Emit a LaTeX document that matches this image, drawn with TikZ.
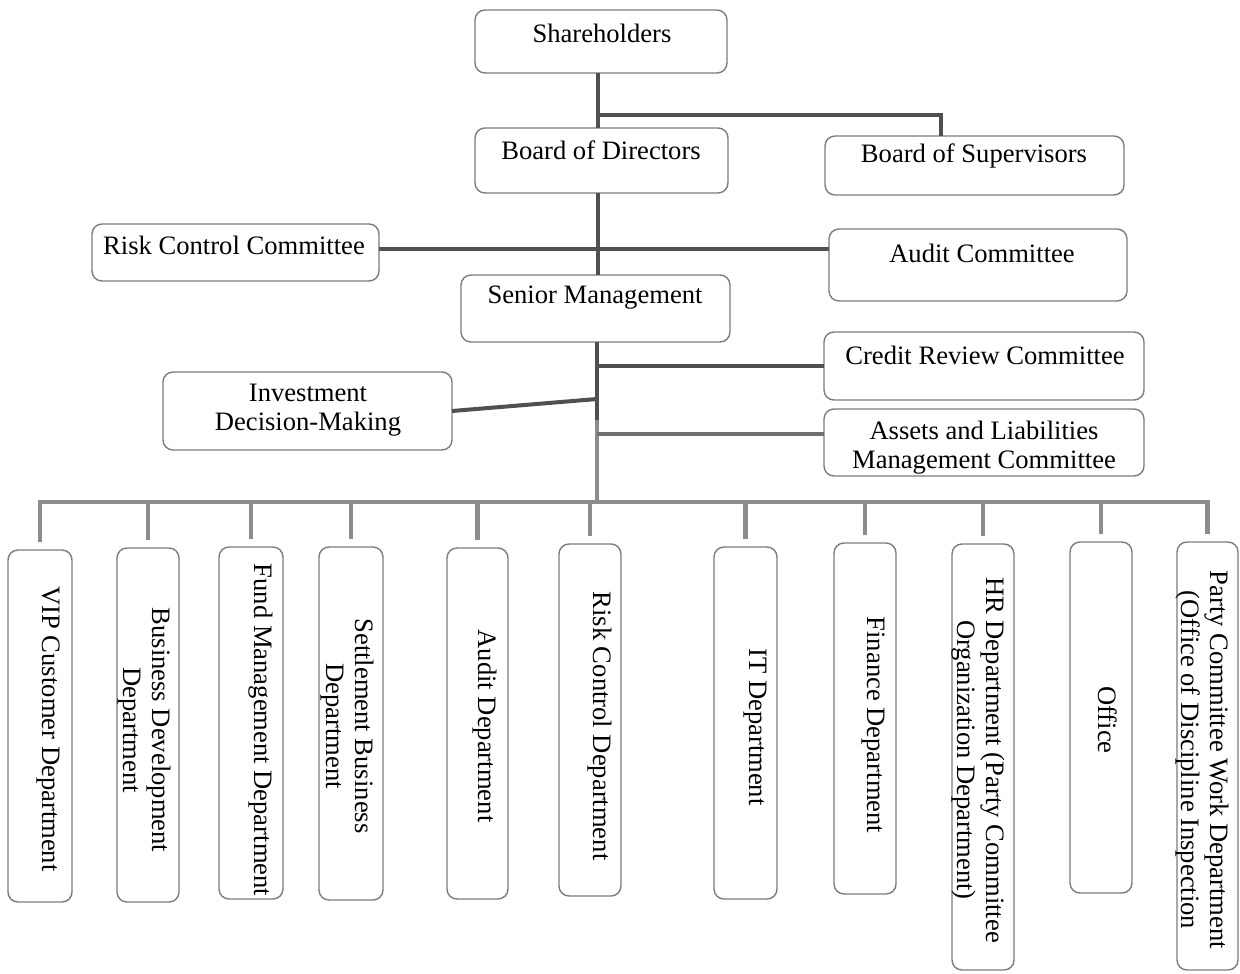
\documentclass[tikz,border=0pt]{standalone}
\usepackage{fontspec}
\setmainfont{Liberation Serif}
\definecolor{boxgray}{HTML}{7C7C7C}
\definecolor{linedark}{HTML}{505050}
\definecolor{linemid}{HTML}{707070}
\definecolor{linegray}{HTML}{8C8C8C}
\newcommand{\bx}[5]{\node[box, minimum width={(#4-#2)*0.5pt}, minimum height={(#5-#3)*0.5pt}] (#1) at ({(#2+#4)/2},{(#3+#5)/2}) {};}
\begin{document}
\begin{tikzpicture}[x=0.5pt,y=-0.5pt,
  box/.style={draw=boxgray, line width=0.7pt, rounded corners=5pt, inner sep=0pt, outer sep=0pt},
  lbl/.style={font=\fontsize{13.3}{14.5}\selectfont, inner sep=0pt, align=center},
  vlbl/.style={lbl, rotate=-90},
  darkline/.style={draw=linedark, line width=2pt},
  midline/.style={draw=linemid, line width=2pt},
  busline/.style={draw=linegray, line width=2.4pt}
]
\useasboundingbox[fill=white] (0,0) rectangle (1240,973);

% upper boxes
\bx{sh}{475}{10}{727}{73}
\bx{bod}{475}{128}{728}{193}
\bx{bos}{825}{136}{1124}{195}
\bx{rcc}{92}{224}{379}{281}
\bx{ac}{829}{229}{1127}{301}
\bx{sm}{461}{275}{730}{342}
\bx{cr}{824}{332}{1144}{400}
\bx{inv}{163}{372}{452}{450}
\bx{al}{824}{409}{1144}{476}

\node[lbl] (sh-t) at (602,33) {Shareholders};
\node[lbl] (bod-t) at (601,150) {Board of Directors};
\node[lbl] (bos-t) at (974,156) {Board of Supervisors};
\node[lbl] (rcc-t) at (234,245) {Risk Control Committee};
\node[lbl] (ac-t) at (982,253) {Audit Committee};
\node[lbl] (sm-t) at (595,298) {Senior Management};
\node[lbl] (cr-t) at (985,355) {Credit Review Committee};
\node[lbl] (inv-t) at (308,410) {Investment\\Decision-Making};
\node[lbl] (al-t) at (984,448) {Assets and Liabilities\\Management Committee};

% department boxes
\bx{d1}{8}{550}{72}{902}
\bx{d2}{117}{548}{179}{902}
\bx{d3}{219}{547}{283}{899}
\bx{d4}{319}{547}{383}{900}
\bx{d5}{447}{548}{508}{899}
\bx{d6}{559}{544}{621}{896}
\bx{d7}{714}{547}{777}{899}
\bx{d8}{834}{543}{896}{894}
\bx{d9}{952}{544}{1014}{970}
\bx{d10}{1070}{542}{1132}{893}
\bx{d11}{1177}{542}{1238}{970}

\node[vlbl] (d1-t) at (48,729) {VIP Customer Department};
\node[vlbl] (d2-t) at (144,730) {Business Development\\Department};
\node[vlbl] (d3-t) at (261,730) {Fund Management Department};
\node[vlbl] (d4-t) at (347,726) {Settlement Business\\Department};
\node[vlbl] (d5-t) at (485,726) {Audit Department};
\node[vlbl] (d6-t) at (600,726) {Risk Control Department};
\node[vlbl] (d7-t) at (755,727) {IT Department};
\node[vlbl] (d8-t) at (873,725) {Finance Department};
\node[vlbl] (d9-t) at (978,760) {HR Department (Party Committee\\Organization Department)};
\node[vlbl] (d10-t) at (1108,720) {Office};
\node[vlbl] (d11-t) at (1202,760) {Party Committee Work Department\\(Office of Discipline Inspection};

% connectors
\coordinate (jsup) at (598,115);
\coordinate (spine) at (597,502);
\coordinate (spmid) at (597,420);
\coordinate (invj) at (597,399);

\draw[darkline] (sh.south -| jsup) -- (bod.north -| jsup);
\draw[darkline] (jsup) -| ([xshift=-17pt]bos.north);
\draw[darkline] (bod.south -| jsup) -- (sm.north -| jsup);
\draw[darkline] ([yshift=1.75pt]rcc.east) -- ([yshift=1.75pt]rcc.east -| ac.west);
\draw[darkline] (sm.south -| spine) -- (spmid);
\draw[busline] (spmid) -- (spine);
\draw[darkline] (cr.west -| spine) -- (cr.west);
\draw[midline] ([yshift=4.5pt]al.west -| spine) -- ([yshift=4.5pt]al.west);
\draw[darkline] (inv.east) -- (invj);

\draw[busline, line join=miter] ([yshift=4pt]d1.north) -- (d1.north |- spine) -- (d11.north |- spine) -- ([yshift=4pt]d11.north);
\foreach \d in {d2,d3,d4,d5,d6,d7,d8,d9,d10}
  \draw[busline] (\d.north |- spine) -- ([yshift=4pt]\d.north);
\end{tikzpicture}
\end{document}
